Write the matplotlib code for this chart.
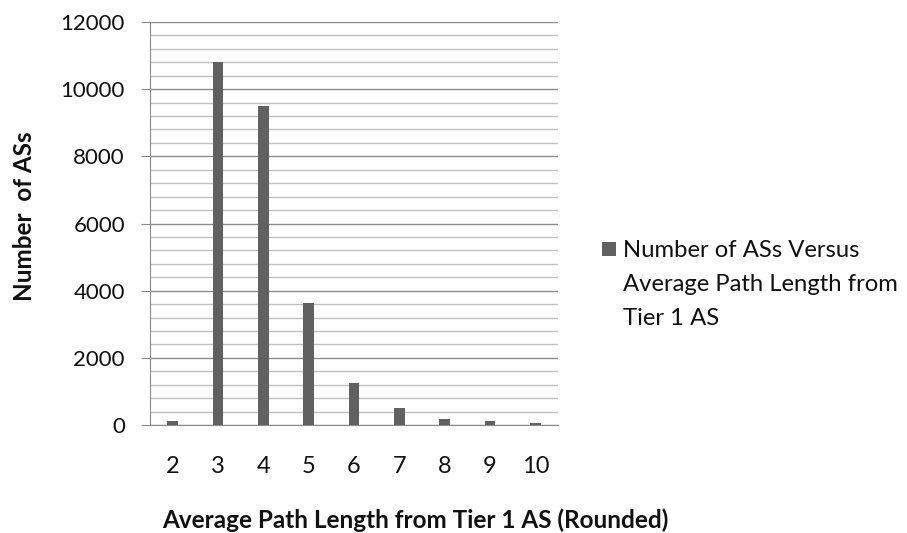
import matplotlib
matplotlib.use("Agg")
import matplotlib.pyplot as plt
import numpy as np
from matplotlib.patches import Rectangle
from matplotlib.ticker import MultipleLocator

path_lengths = ["2", "3", "4", "5", "6", "7", "8", "9", "10"]
num_ases = [110, 10800, 9500, 3620, 1260, 500, 190, 110, 70]
y_ticks = [0, 2000, 4000, 6000, 8000, 10000, 12000]
legend_lines = ["Number of ASs Versus", "Average Path Length from", "Tier 1 AS"]
x_title = "Average Path Length from Tier 1 AS (Rounded)"
y_title = "Number  of ASs"

plt.rcParams["font.family"] = ["Lato", "DejaVu Sans"]

W, H = 907, 533
BAR = "#616161"
INK = "#111111"
AXIS_GREY = "#8a8a8a"

fig = plt.figure(figsize=(W / 100, H / 100), dpi=100)
ax = fig.add_axes([150 / W, 1 - 425 / H, 408 / W, 403 / H])

x = np.arange(len(path_lengths))
ax.bar(x, num_ases, width=0.24, color=BAR, zorder=3)

ax.set_xlim(-0.5, len(path_lengths) - 0.5)
ax.set_ylim(0, 12000)
ax.set_xticks(x)
ax.set_xticklabels(path_lengths)
ax.set_yticks(y_ticks)
ax.set_yticklabels([str(v) for v in y_ticks])
ax.yaxis.set_minor_locator(MultipleLocator(400))

ax.grid(axis="y", which="major", color="#8c8c8c", linewidth=1.0, zorder=0)
ax.grid(axis="y", which="minor", color="#c0c0c0", linewidth=1.0, zorder=0)

for side in ["top", "right"]:
    ax.spines[side].set_visible(False)
ax.spines["left"].set_color(AXIS_GREY)
ax.spines["bottom"].set_color(AXIS_GREY)

ax.tick_params(axis="y", which="major", length=6.5, color=AXIS_GREY,
               labelsize=16, pad=11.5, labelcolor=INK)
ax.tick_params(axis="y", which="minor", length=0)
ax.tick_params(axis="x", length=0, labelsize=17, pad=22, labelcolor=INK)

# axis titles
fig.text(25 / W, 1 - 216 / H, y_title, rotation=90, ha="center",
         va="center", fontsize=17.5, fontweight="bold", color=INK)
fig.text(162 / W, 1 - 528 / H, x_title, ha="left", va="baseline",
         fontsize=17.5, fontweight="bold", color=INK)

# legend: swatch beside the first line of the series name
fig.patches.append(Rectangle((602 / W, 1 - 256 / H), 14 / W, 14 / H,
                             transform=fig.transFigure, facecolor=BAR,
                             edgecolor="none"))
for i, line in enumerate(legend_lines):
    fig.text(623 / W, 1 - (257 + 34 * i) / H, line, ha="left",
             va="baseline", fontsize=17.2, color=INK)

fig.savefig("out.png", dpi=100)
